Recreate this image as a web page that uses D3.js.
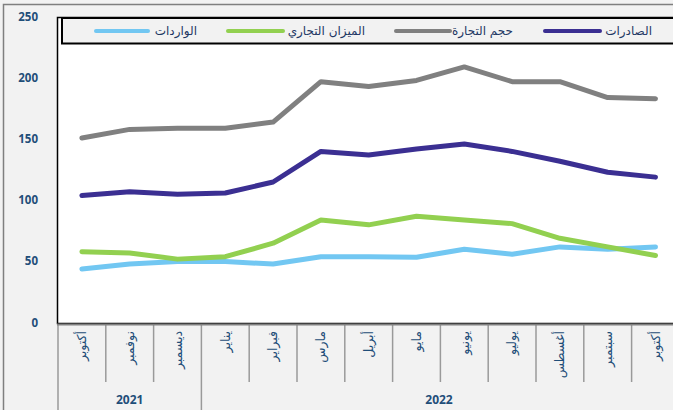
<!DOCTYPE html>
<html><head><meta charset="utf-8">
<script src="https://cdn.jsdelivr.net/npm/d3@7"></script>
<style>
html,body{margin:0;padding:0;background:#f2f2f2;overflow:hidden}
svg{display:block}
</style></head>
<body>
<svg id="c" width="673" height="410"></svg>
<script>
const months = ["أكتوبر","نوفمبر","ديسمبر","يناير","فبراير","مارس","أبريل","مايو","يونيو","يوليو","أغسطس","سبتمبر","أكتوبر"];
const years = [{label:"2021", from:0, to:3},{label:"2022", from:3, to:13}];
const exportsV = [105,108,106,107,116,141,138,143,147,141,133,124,120];
const tradeV   = [152,159,160,160,165,198,194,199,210,198,198,185,184];
const balanceV = [59,58,53,55,66,85,81,88,85,82,70,63,56];
const importsV = [45,49,51,51,49,55,55,54.5,61,57,63,61,63];
const yTicks = [0,50,100,150,200,250];
const series = [
  {name:"الصادرات", values:exportsV, color:"#3b2f92"},
  {name:"حجم التجارة", values:tradeV, color:"#808080"},
  {name:"الميزان التجاري", values:balanceV, color:"#92d050"},
  {name:"الواردات", values:importsV, color:"#72c7f2"}
];

const svg = d3.select("#c");
const L = 58, T = 18, B = 324;
const step = 47.8;
const x = d3.scaleBand().domain(d3.range(months.length)).range([L, L + step*months.length]).padding(0);
const y = d3.scaleLinear().domain([0,250]).range([B, T]);
const txt = "#1f4e79";

// outer frame
svg.append("rect").attr("x",3.5).attr("y",4.5).attr("width",680).attr("height",420)
  .attr("fill","#f2f2f2").attr("stroke","#7f7f7f").attr("stroke-width",1.5);

// plot area
svg.append("rect").attr("x",L-0.5).attr("y",T-0.5).attr("width",700).attr("height",B-T)
  .attr("fill","#ffffff").attr("stroke","#000").attr("stroke-width",1.5);

// y axis labels
const yAxis = d3.axisLeft(y).tickValues(yTicks).tickSize(0).tickPadding(0);
const yg = svg.append("g").attr("transform","translate(38,-1.5)").call(yAxis);
yg.select(".domain").remove();
yg.selectAll("text").attr("fill",txt).attr("font-family","'Open Sans','DejaVu Sans',sans-serif")
  .attr("font-size",11.5).attr("font-weight","bold");

// category separators
const seps = d3.range(months.length+1);
svg.append("g").selectAll("line").data(seps).join("line")
  .attr("x1",i=>L+i*step).attr("x2",i=>L+i*step)
  .attr("y1",B).attr("y2",i => (i===0 || i===3) ? 412 : 382)
  .attr("stroke","#9a9a9a").attr("stroke-width",1.5);

// x axis line
svg.append("line").attr("x1",L-1).attr("x2",700).attr("y1",B+0.5).attr("y2",B+0.5)
  .attr("stroke","#808080").attr("stroke-width",2);

// month labels
const xAxis = d3.axisBottom(x).tickFormat(i=>months[i]).tickSize(0).tickPadding(0);
const xg = svg.append("g").attr("transform",`translate(0,${B})`).call(xAxis);
xg.select(".domain").remove();
xg.selectAll("text")
  .attr("transform","translate(0,7) rotate(-90)")
  .attr("text-anchor","end").attr("dy","0.35em").attr("dx","0").attr("y",0).attr("x",0)
  .attr("fill",txt).attr("font-family","'DejaVu Sans',sans-serif").attr("font-size",12.5);

// year labels
svg.append("g").selectAll("text").data(years).join("text")
  .attr("x",d=> d.label==="2021" ? (L+d.from*step+L+d.to*step)/2 : 439)
  .attr("y",404).attr("text-anchor","middle")
  .attr("fill",txt).attr("font-family","'Open Sans','DejaVu Sans',sans-serif")
  .attr("font-size",12).attr("font-weight","bold").text(d=>d.label);

// lines
const line = d3.line().x((d,i)=>x(i)+x.bandwidth()/2).y(d=>y(d));
svg.append("g").selectAll("path").data(series.slice().reverse()).join("path")
  .attr("d",d=>line(d.values)).attr("fill","none").attr("stroke",d=>d.color)
  .attr("stroke-width",5).attr("stroke-linejoin","round").attr("stroke-linecap","round");

// legend
svg.append("rect").attr("x",62).attr("y",18).attr("width",660).attr("height",25.5)
  .attr("fill","#f2f2f2").attr("stroke","#000").attr("stroke-width",2);
const legendPos = [
  {textRight:652, lineX1:545, lineX2:600},
  {textRight:513, lineX1:396, lineX2:450},
  {textRight:365, lineX1:228, lineX2:283},
  {textRight:197, lineX1:96, lineX2:148}
];
const lg = svg.append("g").selectAll("g").data(series).join("g");
lg.append("line").attr("x1",(d,i)=>legendPos[i].lineX1).attr("x2",(d,i)=>legendPos[i].lineX2)
  .attr("y1",31).attr("y2",31).attr("stroke",d=>d.color).attr("stroke-width",4).attr("stroke-linecap","round");
lg.append("text").attr("x",(d,i)=>legendPos[i].textRight).attr("y",31).attr("dy","0.35em")
  .attr("text-anchor","end").attr("fill","#1f3864")
  .attr("font-family","'DejaVu Sans',sans-serif").attr("font-size",12).text(d=>d.name);
</script>
</body></html>
